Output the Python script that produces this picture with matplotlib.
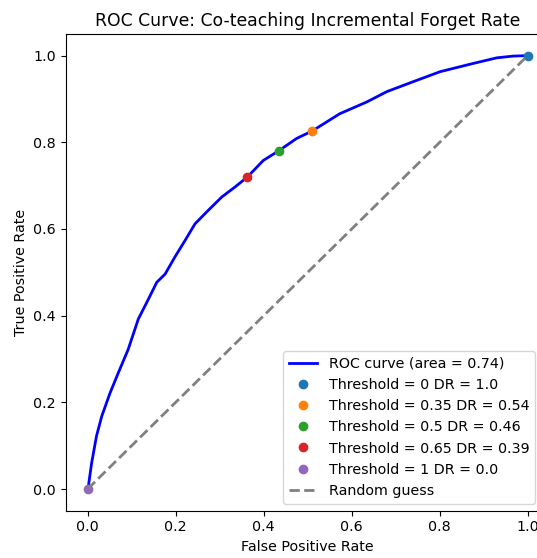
import matplotlib
matplotlib.use("Agg")
import matplotlib.pyplot as plt

plt.rcParams['font.size'] = 10.3
plt.rcParams['axes.titlesize'] = 12.4

# ROC curve points
fpr = [0.0, 0.001, 0.009, 0.020, 0.032, 0.051, 0.070, 0.092, 0.115, 0.138,
       0.157, 0.176, 0.198, 0.221, 0.244, 0.274, 0.305, 0.335, 0.363, 0.399,
       0.435, 0.475, 0.510, 0.573, 0.634, 0.680, 0.740, 0.801, 0.876, 0.930,
       0.967, 1.0]
tpr = [0.0, 0.002, 0.060, 0.122, 0.168, 0.222, 0.269, 0.322, 0.392, 0.438,
       0.477, 0.496, 0.535, 0.573, 0.612, 0.643, 0.674, 0.697, 0.720, 0.758,
       0.781, 0.809, 0.826, 0.866, 0.893, 0.917, 0.940, 0.963, 0.982, 0.995,
       0.999, 1.0]
roc_auc = 0.74

# threshold markers
thresholds = ["0", "0.35", "0.5", "0.65", "1"]
dr_values = ["1.0", "0.54", "0.46", "0.39", "0.0"]
th_fpr = [1.0, 0.510, 0.435, 0.363, 0.0]
th_tpr = [1.0, 0.826, 0.781, 0.720, 0.0]

fig = plt.figure(figsize=(5.37, 5.58), dpi=100)
ax = fig.add_axes([0.1223, 0.0848, 0.9013, 0.8543])

ax.plot(fpr, tpr, color='blue', lw=2, label='ROC curve (area = %0.2f)' % roc_auc)
for t, d, x, y in zip(thresholds, dr_values, th_fpr, th_tpr):
    ax.plot(x, y, 'o', label='Threshold = %s DR = %s' % (t, d))
ax.plot([0, 1], [0, 1], color='gray', lw=2, linestyle='--', label='Random guess')

ax.set_xlim(-0.05, 1.05)
ax.set_ylim(-0.05, 1.05)
ax.set_xlabel('False Positive Rate')
ax.set_ylabel('True Positive Rate')
ax.set_title('ROC Curve: Co-teaching Incremental Forget Rate')
ax.legend(loc='lower right', bbox_to_anchor=(0.985, 0.0))

fig.savefig('out.png', dpi=100)
